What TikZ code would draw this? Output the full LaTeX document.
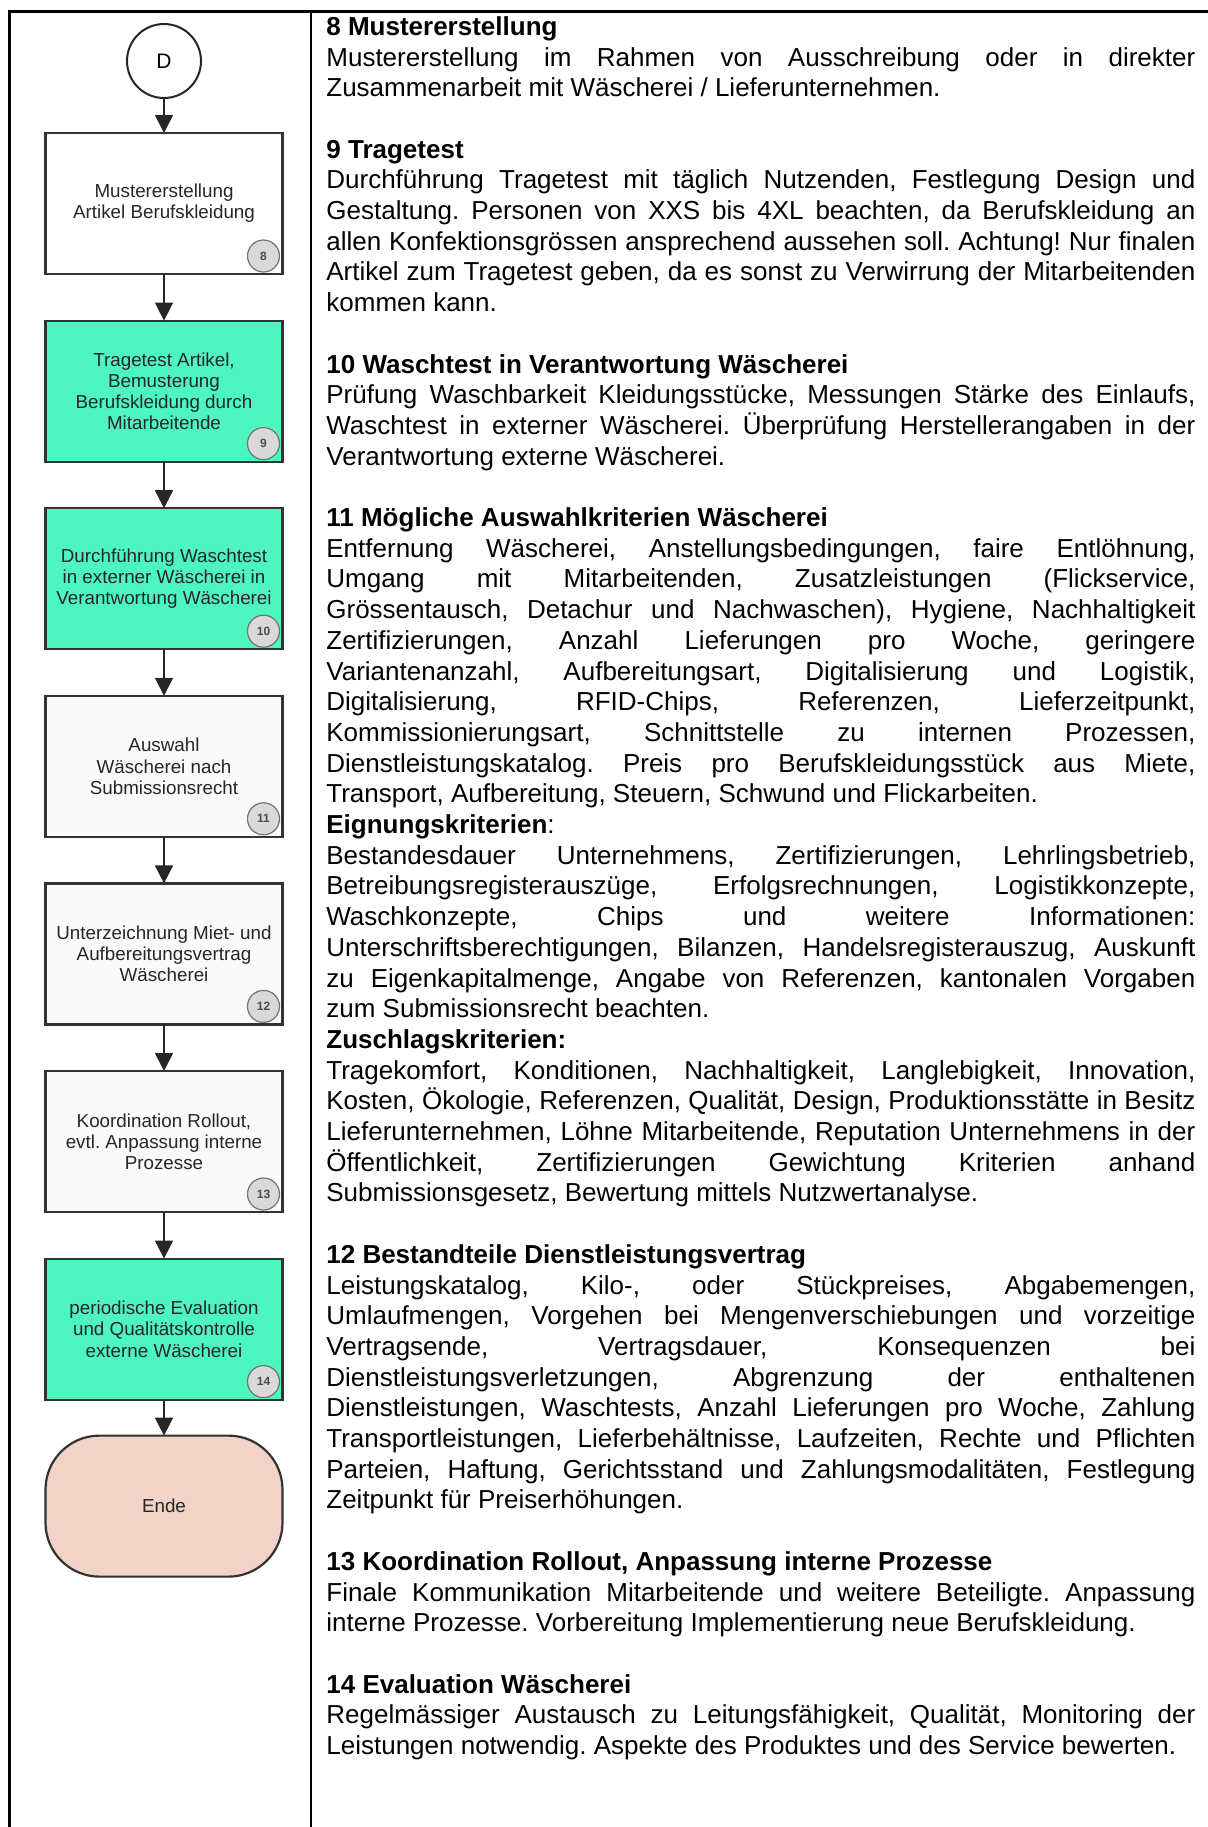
\documentclass[tikz,border=0pt]{standalone}
\usepackage{fontspec}
\setmainfont{Liberation Sans}
\usepackage{xcolor}
\usetikzlibrary{arrows.meta,positioning}
\definecolor{testgreen}{RGB}{77,245,193}
\definecolor{endrose}{RGB}{242,211,199}
\definecolor{numgray}{RGB}{217,217,217}
\setlength{\parindent}{0pt}
\frenchspacing
\hyphenpenalty=10000
\exhyphenpenalty=10000
\tolerance=10000
\hbadness=10000

\begin{document}
\begin{tikzpicture}[
  x=0.5pt,y=-0.5pt,
  node distance=23.3pt,
  frame/.style={line width=1.3pt},
  proc/.style={rectangle,draw=black!80,line width=1.1pt,fill=black!2,outer sep=0pt,
               minimum width=118.5pt,minimum height=70.5pt,align=center,
               text=black!85,font=\fontsize{9.4}{10.6}\selectfont},
  test/.style={proc,fill=testgreen},
  ende/.style={proc,rounded corners=27pt,fill=endrose},
  conn/.style={circle,draw=black!85,line width=1pt,fill=white,outer sep=0pt,
               minimum size=37pt,inner sep=0pt,font=\fontsize{10.5}{12}\selectfont},
  num/.style={circle,draw=black!55,line width=.6pt,fill=numgray,minimum size=16pt,
              inner sep=0pt,font=\fontsize{6}{6}\selectfont\bfseries,text=black!70},
  edge/.style={-{Triangle[length=9pt,width=9pt]},line width=.8pt,draw=black!85},
  desc/.style={anchor=north west,inner sep=0pt,text width=434.5pt,align=justify,
               font=\fontsize{13}{15.35}\selectfont}]
\useasboundingbox (0,0) rectangle (1208,1827);
\draw[frame] (9.5,1827) -- (9.5,11.3) -- (1208,11.3);
\draw[frame] (311,11.3) -- (311,1827);

\node[conn] (D) at (164,61) {D};
\node[proc,fill=white,below=17.5pt of D] (muster) {Mustererstellung\\Artikel Berufskleidung};
\node[test,below=of muster] (trage) {Tragetest Artikel,\\Bemusterung\\Berufskleidung durch\\Mitarbeitende};
\node[test,below=of trage] (wasch) {Durchführung Waschtest\\in externer Wäscherei in\\Verantwortung Wäscherei};
\node[proc,below=of wasch] (auswahl) {Auswahl\\Wäscherei nach\\Submissionsrecht};
\node[proc,below=of auswahl] (vertrag) {Unterzeichnung Miet- und\\Aufbereitungsvertrag\\Wäscherei};
\node[proc,below=of vertrag] (rollout) {Koordination Rollout,\\evtl. Anpassung interne\\Prozesse};
\node[test,below=of rollout] (eval) {periodische Evaluation\\und Qualitätskontrolle\\externe Wäscherei};
\node[ende,below=18pt of eval] (ende) {Ende};

\node[num] (n8) at ([shift={(-9.5pt,9pt)}]muster.south east) {8};
\node[num] (n9) at ([shift={(-9.5pt,9pt)}]trage.south east) {9};
\node[num] (n10) at ([shift={(-9.5pt,9pt)}]wasch.south east) {10};
\node[num] (n11) at ([shift={(-9.5pt,9pt)}]auswahl.south east) {11};
\node[num] (n12) at ([shift={(-9.5pt,9pt)}]vertrag.south east) {12};
\node[num] (n13) at ([shift={(-9.5pt,9pt)}]rollout.south east) {13};
\node[num] (n14) at ([shift={(-9.5pt,9pt)}]eval.south east) {14};

\draw[edge] (D)--(muster);
\draw[edge] (muster)--(trage);
\draw[edge] (trage)--(wasch);
\draw[edge] (wasch)--(auswahl);
\draw[edge] (auswahl)--(vertrag);
\draw[edge] (vertrag)--(rollout);
\draw[edge] (rollout)--(eval);
\draw[edge] (eval)--(ende);

\node[desc] (steps) at (326,13.5) {\strut\textbf{8 Mustererstellung}\par
Mustererstellung im Rahmen von Ausschreibung oder in direkter\linebreak
Zusammenarbeit mit Wäscherei / Lieferunternehmen.\par
\vspace{\baselineskip}
\textbf{9 Tragetest}\par
Durchführung Tragetest mit täglich Nutzenden, Festlegung Design und\linebreak
Gestaltung. Personen von XXS bis 4XL beachten, da Berufskleidung an\linebreak
allen Konfektionsgrössen ansprechend aussehen soll. Achtung! Nur finalen\linebreak
Artikel zum Tragetest geben, da es sonst zu Verwirrung der Mitarbeitenden\linebreak
kommen kann.\par
\vspace{\baselineskip}
\textbf{10 Waschtest in Verantwortung Wäscherei}\par
Prüfung Waschbarkeit Kleidungsstücke, Messungen Stärke des Einlaufs,\linebreak
Waschtest in externer Wäscherei. Überprüfung Herstellerangaben in der\linebreak
Verantwortung externe Wäscherei.\par
\vspace{\baselineskip}
\textbf{11 Mögliche Auswahlkriterien Wäscherei}\par
Entfernung Wäscherei, Anstellungsbedingungen, faire Entlöhnung,\linebreak
Umgang mit Mitarbeitenden, Zusatzleistungen (Flickservice,\linebreak
Grössentausch, Detachur und Nachwaschen), Hygiene, Nachhaltigkeit\linebreak
Zertifizierungen, Anzahl Lieferungen pro Woche, geringere\linebreak
Variantenanzahl, Aufbereitungsart, Digitalisierung und Logistik,\linebreak
Digitalisierung, RFID-Chips, Referenzen, Lieferzeitpunkt,\linebreak
Kommissionierungsart, Schnittstelle zu internen Prozessen,\linebreak
Dienstleistungskatalog. Preis pro Berufskleidungsstück aus Miete,\linebreak
Transport, Aufbereitung, Steuern, Schwund und Flickarbeiten.\par
\textbf{Eignungskriterien}:\par
Bestandesdauer Unternehmens, Zertifizierungen, Lehrlingsbetrieb,\linebreak
Betreibungsregisterauszüge, Erfolgsrechnungen, Logistikkonzepte,\linebreak
Waschkonzepte, Chips und weitere Informationen:\linebreak
Unterschriftsberechtigungen, Bilanzen, Handelsregisterauszug, Auskunft\linebreak
zu Eigenkapitalmenge, Angabe von Referenzen, kantonalen Vorgaben\linebreak
zum Submissionsrecht beachten.\par
\textbf{Zuschlagskriterien:}\par
Tragekomfort, Konditionen, Nachhaltigkeit, Langlebigkeit, Innovation,\linebreak
Kosten, Ökologie, Referenzen, Qualität, Design, Produktionsstätte in Besitz\linebreak
Lieferunternehmen, Löhne Mitarbeitende, Reputation Unternehmens in der\linebreak
Öffentlichkeit, Zertifizierungen Gewichtung Kriterien anhand\linebreak
Submissionsgesetz, Bewertung mittels Nutzwertanalyse.\par
\vspace{\baselineskip}
\textbf{12 Bestandteile Dienstleistungsvertrag}\par
Leistungskatalog, Kilo-, oder Stückpreises, Abgabemengen,\linebreak
Umlaufmengen, Vorgehen bei Mengenverschiebungen und vorzeitige\linebreak
Vertragsende, Vertragsdauer, Konsequenzen bei\linebreak
Dienstleistungsverletzungen, Abgrenzung der enthaltenen\linebreak
Dienstleistungen, Waschtests, Anzahl Lieferungen pro Woche, Zahlung\linebreak
Transportleistungen, Lieferbehältnisse, Laufzeiten, Rechte und Pflichten\linebreak
Parteien, Haftung, Gerichtsstand und Zahlungsmodalitäten, Festlegung\linebreak
Zeitpunkt für Preiserhöhungen.\par
\vspace{\baselineskip}
\textbf{13 Koordination Rollout, Anpassung interne Prozesse}\par
Finale Kommunikation Mitarbeitende und weitere Beteiligte. Anpassung\linebreak
interne Prozesse. Vorbereitung Implementierung neue Berufskleidung.\par
\vspace{\baselineskip}
\textbf{14 Evaluation Wäscherei}\par
Regelmässiger Austausch zu Leitungsfähigkeit, Qualität, Monitoring der\linebreak
Leistungen notwendig. Aspekte des Produktes und des Service bewerten.};
\end{tikzpicture}
\end{document}
